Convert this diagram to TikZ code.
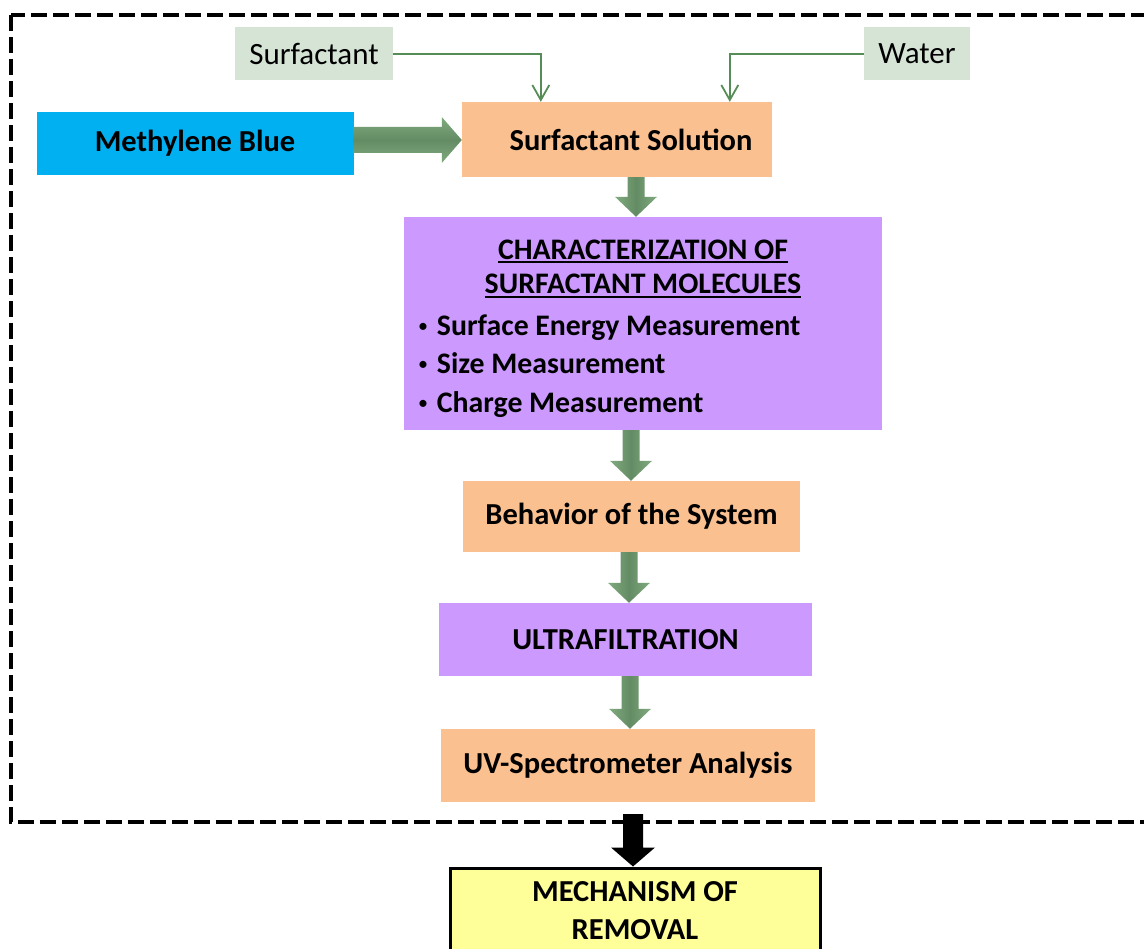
\documentclass[tikz,border=0pt]{standalone}
\usepackage{fontspec}
\setmainfont{Carlito}
\usetikzlibrary{arrows.meta,calc}
\definecolor{sage}{RGB}{214,228,214}
\definecolor{linegreen}{RGB}{86,140,86}
\definecolor{mblue}{RGB}{0,176,240}
\definecolor{peach}{RGB}{250,192,144}
\definecolor{lilac}{RGB}{204,153,255}
\definecolor{pale}{RGB}{255,255,153}
\definecolor{agreenlight}{RGB}{128,170,128}
\definecolor{agreendark}{RGB}{100,140,100}
% thick underline
\newcommand\ulthick[1]{\setbox0\hbox{#1}\rlap{\rule[-4pt]{\wd0}{2.2pt}}\box0}
% small bullet
\newcommand\smallbul{\raisebox{3pt}{\fontsize{20}{20}\selectfont\mdseries •}\hspace{9pt}}
% vertical fat arrow: #1 start anchor, #2 end anchor, #3 x centre, #4 style
\newcommand\vfat[4]{%
  \path[#4] let \p1=(#1), \p2=(#2) in
    (#3pt-8.5pt,\y1) -- (#3pt+8.5pt,\y1) -- (#3pt+8.5pt,\y2+20pt) -- (#3pt+21pt,\y2+20pt)
    -- (#3pt,\y2) -- (#3pt-21pt,\y2+20pt) -- (#3pt-8.5pt,\y2+20pt) -- cycle;}
% horizontal fat arrow: #1 start anchor, #2 end anchor, #3 y centre, #4 style
\newcommand\hfat[4]{%
  \path[#4] let \p1=(#1), \p2=(#2) in
    (\x1,-#3pt+13pt) -- (\x2-20pt,-#3pt+13pt) -- (\x2-20pt,-#3pt+23pt) -- (\x2,-#3pt)
    -- (\x2-20pt,-#3pt-23pt) -- (\x2-20pt,-#3pt-13pt) -- (\x1,-#3pt-13pt) -- cycle;}
\begin{document}
\begin{tikzpicture}[x=1pt,y=-1pt,
  src/.style={fill=sage, inner sep=0pt, font=\fontsize{31}{36}\selectfont},
  stepbox/.style={inner sep=0pt, font=\fontsize{30.5}{36}\selectfont\bfseries},
  thinlink/.style={draw=linegreen, line width=1.8pt, -{Straight Barb[length=15pt,width=17pt]}},
  fatgreen/.style={left color=agreenlight, right color=agreenlight, middle color=agreendark},
  fatgreenh/.style={top color=agreenlight, bottom color=agreenlight, middle color=agreendark},
  fatblack/.style={fill=black},
  frameline/.style={draw=black, line width=4.5pt, dash pattern=on 16pt off 6pt}]
\clip (0,0) rectangle (1144,949);
\fill[white] (0,0) rectangle (1144,949);
\draw[frameline] (11,15) rectangle (1180,822);
% nodes
\node[src, minimum width=158pt, minimum height=53pt] (sf) at (314,54) {Surfactant};
\node[src, minimum width=106pt, minimum height=53pt] (wa) at (917,54) {Water};
\node[stepbox, fill=mblue, minimum width=317pt, minimum height=63pt] (mb) at (195,143.5) {Methylene Blue};
\node[stepbox, fill=peach, minimum width=310pt, minimum height=75pt] (ss) at (617,139.5) {\hspace*{28pt}Surfactant Solution};
\node[stepbox, fill=lilac, minimum height=213pt, minimum width=478pt, inner xsep=14pt, align=left,
      font=\fontsize{29.8}{38.5}\selectfont\bfseries] (ch) at (643,323.5)
  {\rule{0pt}{30pt}\makebox[450pt]{\ulthick{CHARACTERIZATION OF}}\\[-4pt]
   \makebox[450pt]{\ulthick{SURFACTANT MOLECULES}}\\[3pt]
   \smallbul Surface Energy Measurement\\
   \smallbul Size Measurement\\
   \smallbul Charge Measurement};
\node[stepbox, fill=peach, minimum width=337pt, minimum height=71pt] (bs) at (631.5,516.5) {Behavior of the System};
\node[stepbox, fill=lilac, minimum width=373pt, minimum height=73pt] (uf) at (625.5,639.5) {ULTRAFILTRATION};
\node[stepbox, fill=peach, minimum width=374pt, minimum height=73pt] (uv) at (628,765.5) {UV-Spectrometer Analysis};
\node[stepbox, fill=pale, draw=black, line width=3pt, minimum width=370pt, minimum height=86pt,
      align=center, font=\fontsize{30.5}{38}\selectfont\bfseries] (me) at (635,911) {MECHANISM OF\\REMOVAL};
\coordinate (fb) at (633,814);
% thin connectors
\draw[thinlink] (sf.east) -| ([xshift=79pt]ss.north west);
\draw[thinlink] (wa.west) -| ([xshift=268pt]ss.north west);
% fat arrows
\hfat{mb.east}{ss.west}{140}{fatgreenh}
\vfat{ss.south}{ch.north}{636}{fatgreen}
\vfat{ch.south}{bs.north}{631}{fatgreen}
\vfat{bs.south}{uf.north}{629}{fatgreen}
\vfat{uf.south}{uv.north}{630}{fatgreen}
\path[fatblack] let \p1=(fb), \p2=(me.north) in
    (633pt-10pt,\y1) -- (633pt+10pt,\y1) -- (633pt+10pt,\y2+19pt) -- (633pt+22pt,\y2+19pt)
    -- (633pt,\y2) -- (633pt-22pt,\y2+19pt) -- (633pt-10pt,\y2+19pt) -- cycle;
\end{tikzpicture}
\end{document}
